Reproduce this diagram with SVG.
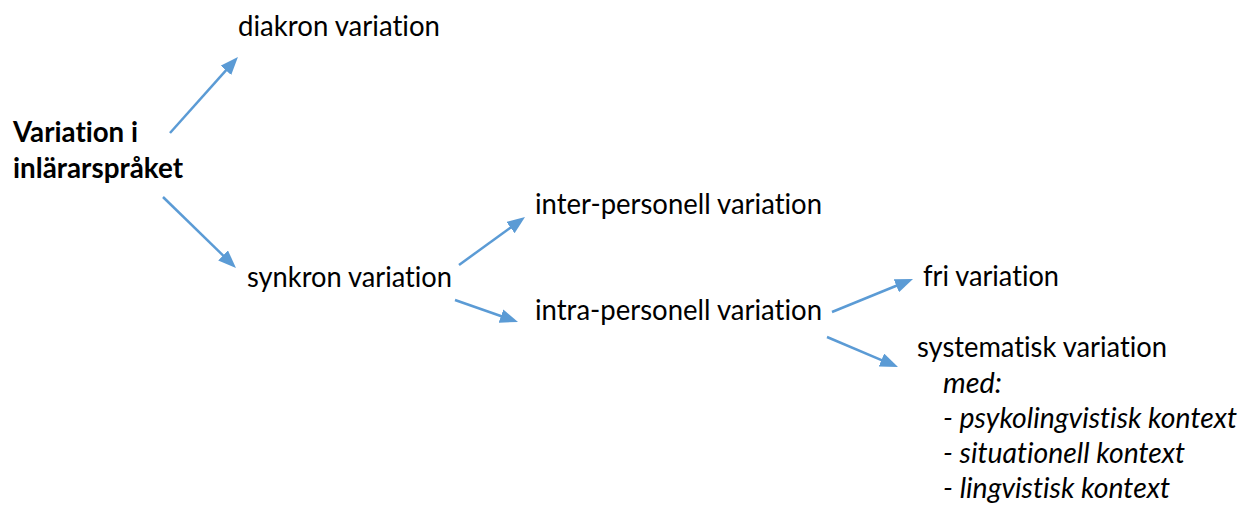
<svg xmlns="http://www.w3.org/2000/svg" width="1249" height="505" viewBox="0 0 1249 505">
<style>
text{font-family:Lato,"Open Sans","Liberation Sans",sans-serif;font-size:28px;fill:#000;font-variant-ligatures:none;font-feature-settings:"liga" 0,"clig" 0}
.b{font-weight:bold}
.i{font-style:italic}
.c line{stroke:#5B9BD5;stroke-width:2.5;marker-end:url(#ah)}
</style>
<defs>
<marker id="ah" markerUnits="userSpaceOnUse" markerWidth="18" markerHeight="14" refX="2" refY="7" orient="auto">
<path d="M0,0 L18,7 L0,14 z" fill="#5B9BD5"/>
</marker>
</defs>
<rect width="1249" height="505" fill="#fff"/>
<g id="root">
<text class="b" x="13" y="142" textLength="125" lengthAdjust="spacingAndGlyphs">Variation i</text>
<text class="b" x="13" y="178" textLength="170" lengthAdjust="spacingAndGlyphs">inlärarspråket</text>
</g>
<g id="diakron"><text x="238" y="36" textLength="202" lengthAdjust="spacingAndGlyphs">diakron variation</text></g>
<g id="synkron"><text x="247" y="287" textLength="205" lengthAdjust="spacingAndGlyphs">synkron variation</text></g>
<g id="inter"><text x="535" y="214" textLength="287" lengthAdjust="spacingAndGlyphs">inter-personell variation</text></g>
<g id="intra"><text x="535" y="320" textLength="287" lengthAdjust="spacingAndGlyphs">intra-personell variation</text></g>
<g id="fri"><text x="923" y="286" textLength="136" lengthAdjust="spacingAndGlyphs">fri variation</text></g>
<g id="systematisk">
<text x="917" y="357" textLength="250" lengthAdjust="spacingAndGlyphs">systematisk variation</text>
<text class="i" x="943" y="393" textLength="59" lengthAdjust="spacingAndGlyphs">med:</text>
<text class="i" x="943" y="428" textLength="294" lengthAdjust="spacingAndGlyphs">- psykolingvistisk kontext</text>
<text class="i" x="943" y="463" textLength="242" lengthAdjust="spacingAndGlyphs">- situationell kontext</text>
<text class="i" x="943" y="498" textLength="227" lengthAdjust="spacingAndGlyphs">- lingvistisk kontext</text>
</g>
<g id="connectors" class="c">
<line x1="170" y1="133" x2="227.3" y2="68.9"/>
<line x1="163" y1="197" x2="224.5" y2="256.8"/>
<line x1="459" y1="265" x2="512.1" y2="226.4"/>
<line x1="455" y1="300" x2="502.9" y2="316.7"/>
<line x1="832" y1="312" x2="898.2" y2="285"/>
<line x1="827" y1="337" x2="883.3" y2="360.8"/>
</g>
</svg>
